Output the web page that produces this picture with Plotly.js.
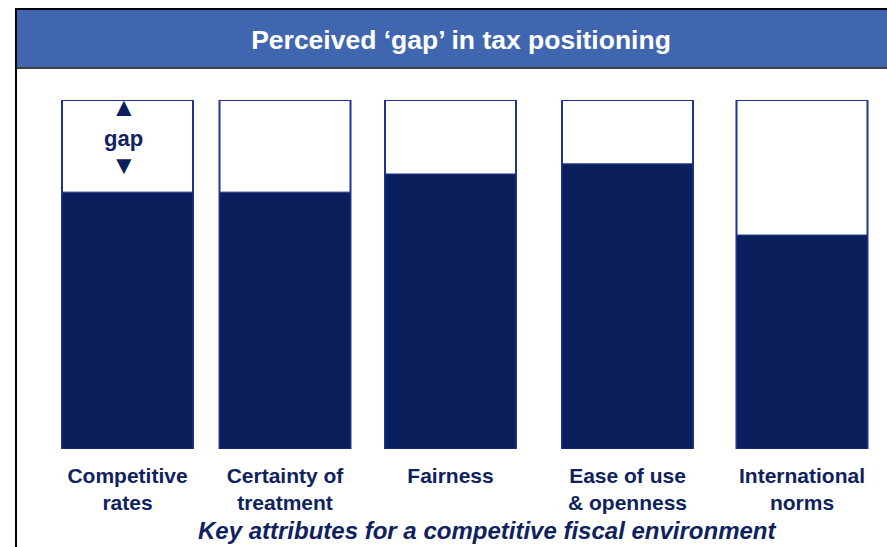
<!DOCTYPE html>
<html>
<head>
<meta charset="utf-8">
<script src="https://cdn.plot.ly/plotly-3.0.1.min.js"></script>
<style>html,body{margin:0;padding:0;background:#fff;}#chart{width:887px;height:547px;}</style>
</head>
<body>
<div id="chart"></div>
<script>
// Data
const categories = ["Competitive<br>rates", "Certainty of<br>treatment", "Fairness", "Ease of use<br>& openness", "International<br>norms"];
const scaleMax = [100, 100, 100, 100, 100];
const perceived = [73.6, 73.6, 78.8, 81.7, 61.3];
const chartTitle = "Perceived \u2018gap\u2019 in tax positioning";
const xTitle = "Key attributes for a competitive fiscal environment";

// Layout constants (pixel-like x axis)
const W = 887, H = 547;
const mTop = 100, mBot = 98;
const plotH = H - mTop - mBot;
const xPos = [127.5, 285, 450.5, 627.5, 802];
const barW = 131;
const navy = "#0b1f5c";
const edge = "#1e3590";
const py = px => (H - mBot - px) / plotH;  // pixel y -> paper y
const pxX = px => px / W;

const traces = [
  {type: "bar", x: xPos, y: scaleMax, width: barW,
   marker: {color: "#ffffff", line: {color: edge, width: 2}}, hoverinfo: "skip", showlegend: false},
  {type: "bar", x: xPos, y: perceived, width: barW,
   marker: {color: navy, line: {color: edge, width: 1}}, showlegend: false}
];

const layout = {
  width: W, height: H,
  margin: {l: 0, r: 0, t: mTop, b: mBot},
  paper_bgcolor: "#ffffff", plot_bgcolor: "#ffffff",
  barmode: "overlay",
  font: {family: "Liberation Sans, Arial, sans-serif", color: "#0f2260"},
  title: {text: "<b>" + chartTitle + "</b>", xref: "container", yref: "container",
          x: 461 / W, y: 1 - 40 / H, xanchor: "center", yanchor: "middle",
          font: {size: 26.5, color: "#ffffff", family: "Liberation Sans, Arial, sans-serif"}},
  xaxis: {range: [0, W], tickvals: xPos, ticktext: categories.map(c => "<b>" + c + "</b>"),
          showgrid: false, zeroline: false, showline: false, ticks: "",
          ticklabelstandoff: 12,
          tickfont: {size: 21, color: "#0f2260"}},
  yaxis: {range: [0, 100], visible: false, fixedrange: true},
  shapes: [
    // header band
    {type: "rect", xref: "paper", yref: "paper", x0: pxX(17), x1: 1.02, y0: py(67), y1: py(10),
     fillcolor: "#4166b0", line: {width: 0}, layer: "below"},
    // top frame line
    {type: "line", xref: "paper", yref: "paper", x0: pxX(15), x1: 1.02, y0: py(9), y1: py(9),
     line: {color: "#000000", width: 2}},
    // header bottom line
    {type: "line", xref: "paper", yref: "paper", x0: pxX(16), x1: 1.02, y0: py(68), y1: py(68),
     line: {color: "#000000", width: 1.5}},
    // left frame line
    {type: "line", xref: "paper", yref: "paper", x0: pxX(16), x1: pxX(16), y0: py(8), y1: py(560),
     line: {color: "#000000", width: 2}}
  ],
  annotations: [
    {xref: "x", yref: "paper", x: xPos[0] - 4, y: py(90), text: "\u25B2", showarrow: false,
     font: {size: 26, color: navy}},
    {xref: "x", yref: "paper", x: xPos[0] - 4, y: py(124), text: "<b>gap</b>", showarrow: false,
     font: {size: 22, color: "#0f2260"}},
    {xref: "x", yref: "paper", x: xPos[0] - 4, y: py(148), text: "\u25BC", showarrow: false,
     font: {size: 26, color: navy}},
    // x-axis title (offset to the right as in the reference)
    {xref: "paper", yref: "paper", x: pxX(487), y: py(530), xanchor: "center", yanchor: "middle",
     text: "<b><i>" + xTitle + "</i></b>", showarrow: false,
     font: {size: 24, color: "#0f2260"}}
  ]
};

Plotly.newPlot("chart", traces, layout, {displayModeBar: false, staticPlot: true});
</script>
</body>
</html>
